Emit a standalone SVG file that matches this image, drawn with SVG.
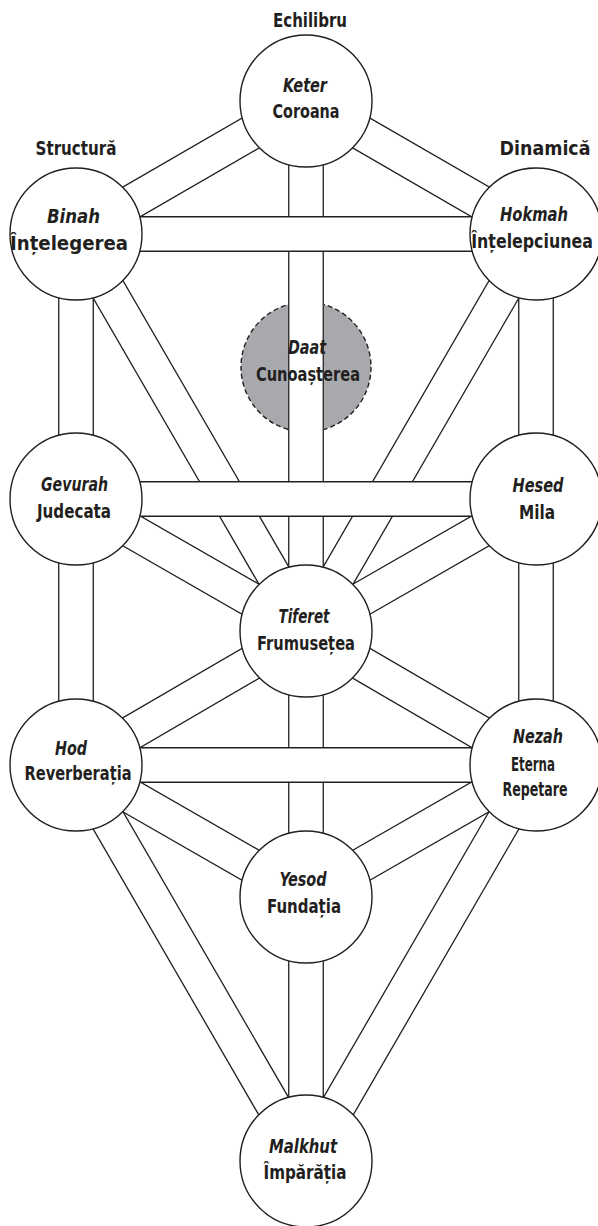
<svg xmlns="http://www.w3.org/2000/svg" width="598" height="1226" viewBox="0 0 598 1226">
<style>
.pb{stroke:#231f20;stroke-width:35.8;fill:none}
.pw{stroke:#ffffff;stroke-width:33.2;fill:none}
.node{fill:#ffffff;stroke:#231f20;stroke-width:1.4}
text{font-family:"Liberation Sans Narrow","DejaVu Sans Condensed","Liberation Sans",sans-serif;font-size:20px;font-weight:bold;fill:#231f20;text-anchor:middle}
.it{font-style:italic}
</style>
<defs>
<mask id="daatMask" maskUnits="userSpaceOnUse" x="0" y="0" width="598" height="1226">
<rect x="0" y="0" width="598" height="1226" fill="#fff"/>
<rect x="288" y="280" width="36" height="180" fill="#000"/>
</mask>
</defs>
<rect width="598" height="1226" fill="#ffffff"/>
<g id="titles">
<text x="310" y="27" textLength="74" lengthAdjust="spacingAndGlyphs">Echilibru</text>
<text x="76" y="155" textLength="81" lengthAdjust="spacingAndGlyphs">Structură</text>
<text x="545" y="155" textLength="91" lengthAdjust="spacingAndGlyphs">Dinamică</text>
</g>
<g id="connectors">
<line class="pb" x1="306" y1="101" x2="76" y2="234"/><line class="pw" x1="306" y1="101" x2="76" y2="234"/>
<line class="pb" x1="306" y1="101" x2="536" y2="234"/><line class="pw" x1="306" y1="101" x2="536" y2="234"/>
<line class="pb" x1="76" y1="234" x2="306" y2="631"/><line class="pw" x1="76" y1="234" x2="306" y2="631"/>
<line class="pb" x1="536" y1="234" x2="306" y2="631"/><line class="pw" x1="536" y1="234" x2="306" y2="631"/>
<line class="pb" x1="76" y1="499" x2="306" y2="631"/><line class="pw" x1="76" y1="499" x2="306" y2="631"/>
<line class="pb" x1="536" y1="499" x2="306" y2="631"/><line class="pw" x1="536" y1="499" x2="306" y2="631"/>
<line class="pb" x1="306" y1="631" x2="76" y2="765"/><line class="pw" x1="306" y1="631" x2="76" y2="765"/>
<line class="pb" x1="306" y1="631" x2="536" y2="765"/><line class="pw" x1="306" y1="631" x2="536" y2="765"/>
<line class="pb" x1="76" y1="765" x2="306" y2="897"/><line class="pw" x1="76" y1="765" x2="306" y2="897"/>
<line class="pb" x1="536" y1="765" x2="306" y2="897"/><line class="pw" x1="536" y1="765" x2="306" y2="897"/>
<line class="pb" x1="76" y1="765" x2="306" y2="1162"/><line class="pw" x1="76" y1="765" x2="306" y2="1162"/>
<line class="pb" x1="536" y1="765" x2="306" y2="1162"/><line class="pw" x1="536" y1="765" x2="306" y2="1162"/>
<line class="pb" x1="306" y1="101" x2="306" y2="631"/><line class="pw" x1="306" y1="101" x2="306" y2="631"/>
<line class="pb" x1="76" y1="234" x2="76" y2="499"/><line class="pw" x1="76" y1="234" x2="76" y2="499"/>
<line class="pb" x1="76" y1="499" x2="76" y2="765"/><line class="pw" x1="76" y1="499" x2="76" y2="765"/>
<line class="pb" x1="536" y1="234" x2="536" y2="499"/><line class="pw" x1="536" y1="234" x2="536" y2="499"/>
<line class="pb" x1="536" y1="499" x2="536" y2="765"/><line class="pw" x1="536" y1="499" x2="536" y2="765"/>
<line class="pb" x1="306" y1="631" x2="306" y2="897"/><line class="pw" x1="306" y1="631" x2="306" y2="897"/>
<line class="pb" x1="306" y1="897" x2="306" y2="1162"/><line class="pw" x1="306" y1="897" x2="306" y2="1162"/>
<line class="pb" x1="76" y1="234" x2="536" y2="234"/><line class="pw" x1="76" y1="234" x2="536" y2="234"/>
<line class="pb" x1="76" y1="499" x2="536" y2="499"/><line class="pw" x1="76" y1="499" x2="536" y2="499"/>
<line class="pb" x1="76" y1="765" x2="536" y2="765"/><line class="pw" x1="76" y1="765" x2="536" y2="765"/>
</g>
<g id="daat">
<circle cx="306" cy="367" r="65" fill="#a7a9ac" stroke="#231f20" stroke-width="1.4" stroke-dasharray="5 3" mask="url(#daatMask)"/>
<text class="it" x="307" y="354" textLength="38" lengthAdjust="spacingAndGlyphs">Daat</text>
<text x="308" y="381" textLength="104" lengthAdjust="spacingAndGlyphs">Cunoașterea</text>
</g>
<g id="keter">
<circle class="node" cx="306" cy="101" r="66"/>
<text class="it" x="305" y="92" textLength="44" lengthAdjust="spacingAndGlyphs">Keter</text>
<text x="306" y="118" textLength="67" lengthAdjust="spacingAndGlyphs">Coroana</text>
</g>
<g id="binah">
<circle class="node" cx="76" cy="234" r="66"/>
<text class="it" x="73.5" y="223" textLength="53" lengthAdjust="spacingAndGlyphs">Binah</text>
<text x="69" y="250" textLength="118" lengthAdjust="spacingAndGlyphs">Înțelegerea</text>
</g>
<g id="hokmah">
<circle class="node" cx="536" cy="234" r="66"/>
<text class="it" x="534" y="221" textLength="68" lengthAdjust="spacingAndGlyphs">Hokmah</text>
<text transform="translate(532 248) scale(0.8 1)" x="0" y="0" textLength="152" lengthAdjust="spacingAndGlyphs">Înțelepciunea</text>
</g>
<g id="gevurah">
<circle class="node" cx="76" cy="499" r="66"/>
<text class="it" x="74.5" y="491" textLength="67" lengthAdjust="spacingAndGlyphs">Gevurah</text>
<text x="74" y="518" textLength="74" lengthAdjust="spacingAndGlyphs">Judecata</text>
</g>
<g id="hesed">
<circle class="node" cx="536" cy="499" r="66"/>
<text class="it" x="538" y="492" textLength="51" lengthAdjust="spacingAndGlyphs">Hesed</text>
<text x="537" y="519" textLength="36" lengthAdjust="spacingAndGlyphs">Mila</text>
</g>
<g id="tiferet">
<circle class="node" cx="306" cy="631" r="66"/>
<text class="it" x="304" y="623" textLength="51" lengthAdjust="spacingAndGlyphs">Tiferet</text>
<text x="306" y="650" textLength="98" lengthAdjust="spacingAndGlyphs">Frumusețea</text>
</g>
<g id="hod">
<circle class="node" cx="76" cy="765" r="66"/>
<text class="it" x="71" y="755" textLength="32" lengthAdjust="spacingAndGlyphs">Hod</text>
<text x="78" y="780" textLength="107" lengthAdjust="spacingAndGlyphs">Reverberația</text>
</g>
<g id="nezah">
<circle class="node" cx="536" cy="765" r="66"/>
<text class="it" x="538" y="743" textLength="50" lengthAdjust="spacingAndGlyphs">Nezah</text>
<text x="533" y="771" textLength="44" lengthAdjust="spacingAndGlyphs">Eterna</text>
<text x="535" y="796" textLength="65" lengthAdjust="spacingAndGlyphs">Repetare</text>
</g>
<g id="yesod">
<circle class="node" cx="306" cy="897" r="66"/>
<text class="it" x="303" y="886" textLength="47" lengthAdjust="spacingAndGlyphs">Yesod</text>
<text x="304" y="913" textLength="74" lengthAdjust="spacingAndGlyphs">Fundația</text>
</g>
<g id="malkhut">
<circle class="node" cx="306" cy="1161" r="66"/>
<text class="it" x="303" y="1153" textLength="68" lengthAdjust="spacingAndGlyphs">Malkhut</text>
<text x="305" y="1179" textLength="83" lengthAdjust="spacingAndGlyphs">Împărăția</text>
</g>
</svg>
